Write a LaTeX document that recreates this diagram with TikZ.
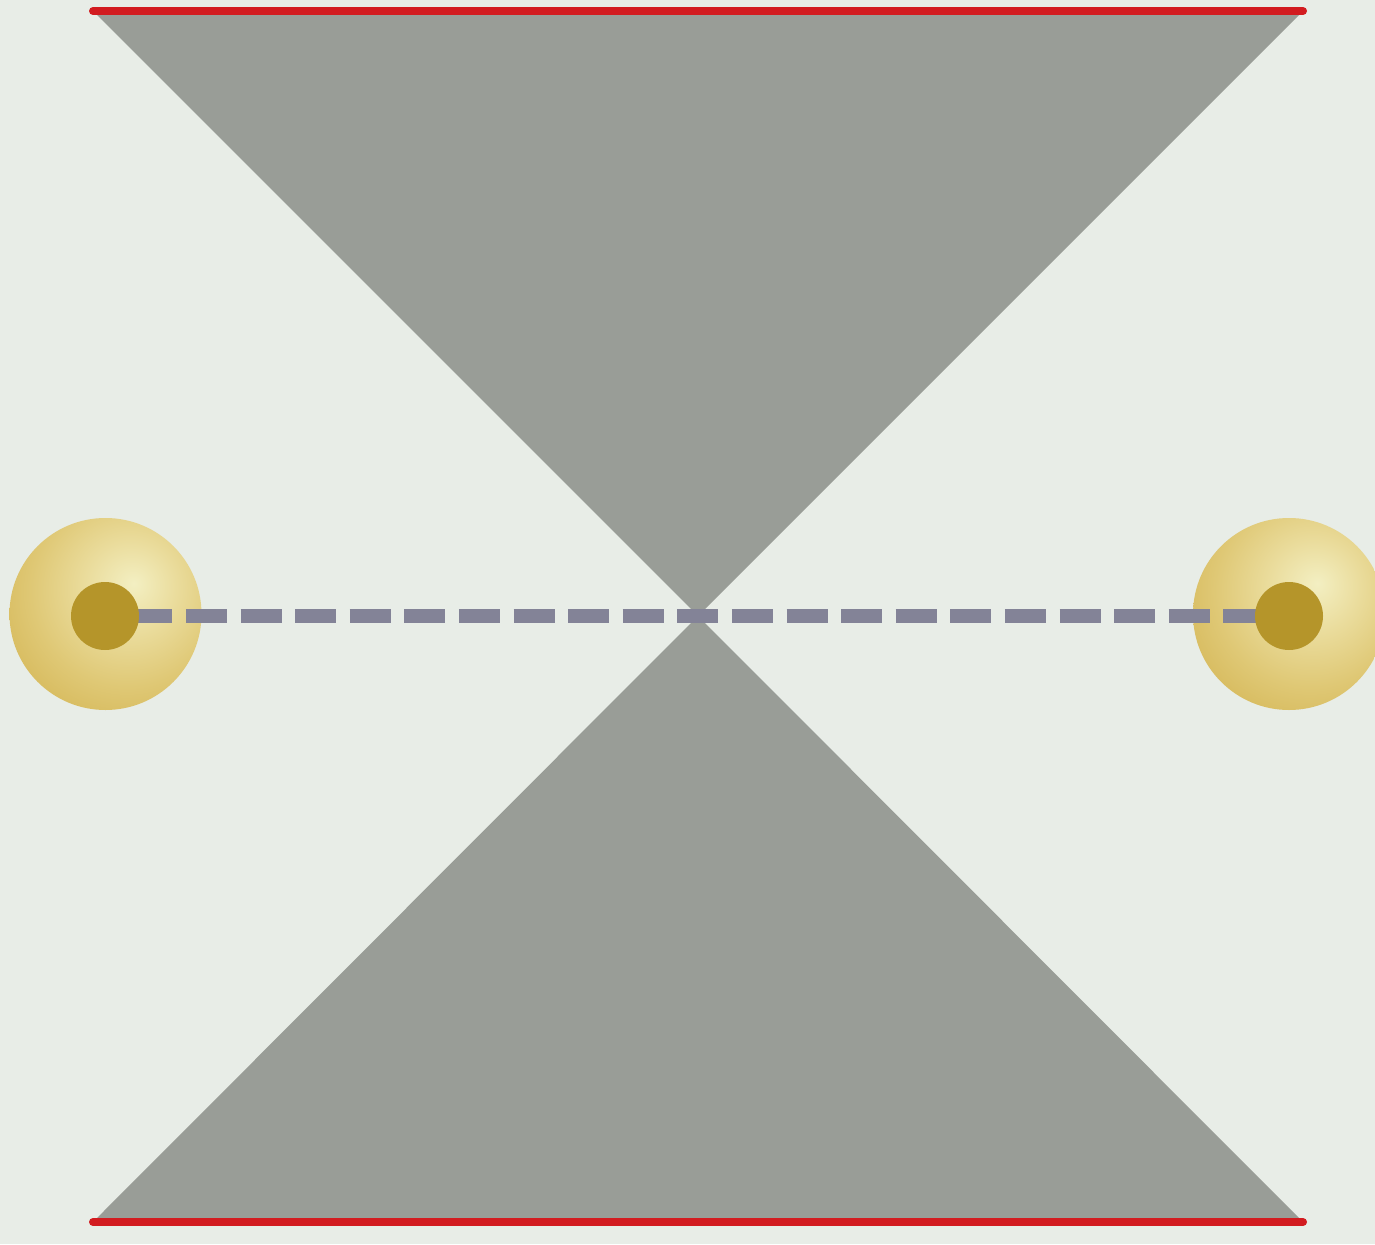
\documentclass[tikz,border=0pt]{standalone}
\usetikzlibrary{shadings}
\definecolor{bgc}{HTML}{E8EDE7}
\definecolor{conec}{HTML}{999D97}
\definecolor{redc}{HTML}{D21C20}
\definecolor{dashc}{HTML}{838397}
\definecolor{corec}{HTML}{B5952A}
\definecolor{hl}{HTML}{F3EFC2}
\definecolor{mid1}{HTML}{EADC9C}
\definecolor{mid2}{HTML}{DFC875}
\definecolor{edgec}{HTML}{D3B452}
\pgfdeclareradialshading{sph}{\pgfpoint{7.4bp}{8bp}}{color(0bp)=(hl); color(12bp)=(mid1); color(25bp)=(mid2); color(39bp)=(edgec); color(100bp)=(edgec)}
\tikzset{
  cone/.style={fill=conec, draw=none},
  edge line/.style={draw=redc, line width=8pt, line cap=round},
  halo/.style={circle, minimum size=192pt, inner sep=0pt, draw=none, shading=sph},
  core/.style={circle, minimum size=68pt, inner sep=0pt, fill=corec, draw=none},
  link/.style={draw=dashc, line width=14pt, dash pattern=on 41pt off 13.6pt, dash phase=28.3pt}
}
\begin{document}
\begin{tikzpicture}[x=1pt,y=-1pt]
\useasboundingbox (0,0) rectangle (1375,1244);
\fill[bgc] (0,0) rectangle (1375,1244);
% cones
\coordinate (apex) at (698,616);
\coordinate (tl) at (93,11);
\coordinate (tr) at (1303,11);
\coordinate (bl) at (93,1222);
\coordinate (br) at (1303,1222);
\path[cone] (tl) -- (tr) -- (apex) -- cycle;
\path[cone] (bl) -- (br) -- (apex) -- cycle;
\draw[edge line] (tl) -- (tr);
\draw[edge line] (bl) -- (br);
% particles
\node[halo] (L) at (105.5,614) {};
\node[halo] (R) at (1289,614) {};
\coordinate (Lc0) at (105,616);
\coordinate (Rc0) at (1289,616);
\draw[link] (Lc0) -- (Rc0);
\node[core] (Lc) at (Lc0) {};
\node[core] (Rc) at (Rc0) {};
\end{tikzpicture}
\end{document}
